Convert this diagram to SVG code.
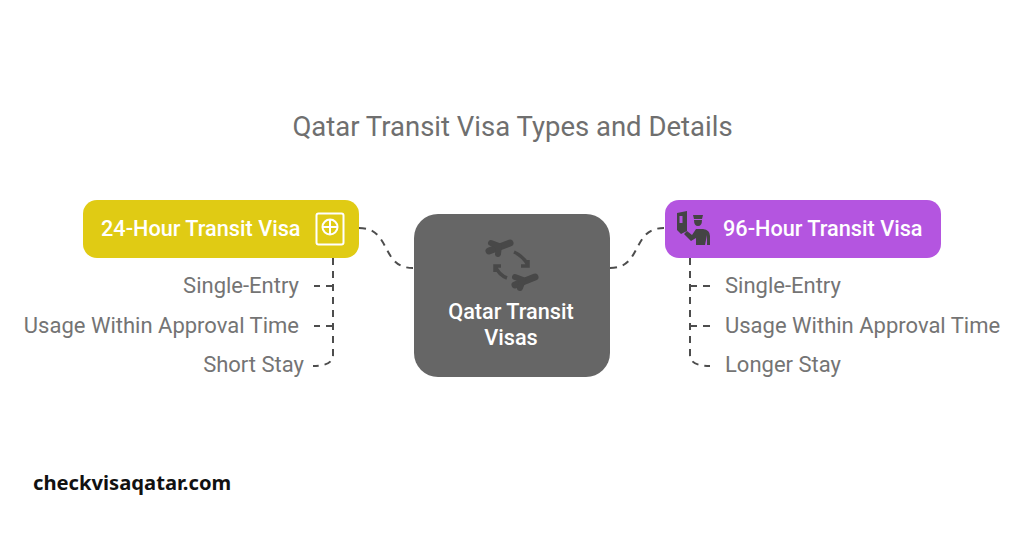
<svg xmlns="http://www.w3.org/2000/svg" width="1024" height="536" viewBox="0 0 1024 536">
<style>
text{font-family:Roboto,"Liberation Sans",sans-serif}
.t{font-size:27.500px;fill:#6f6f6f}
.l{font-size:22px;fill:#747474}
.n{font-size:21.700px;font-weight:500;fill:#fff}
.c{fill:none;stroke:#4d4d4d;stroke-width:2;stroke-dasharray:7 6}
.i{fill:#444}
.a{fill:none;stroke:#484848;stroke-width:3.500}
.p{fill:none;stroke:#484848;stroke-width:7;stroke-linecap:round;stroke-linejoin:round}
.w{fill:none;stroke:#484848;stroke-width:6;stroke-linecap:round;stroke-linejoin:round}
</style>
<rect width="1024" height="536" fill="#fff"/>
<text class="t" x="512.500" y="136" text-anchor="middle">Qatar Transit Visa Types and Details</text>
<g id="connectors">
<path class="c" d="M359 228C392 228 380 268 413 268"/>
<path class="c" d="M610 268C643 268 631 228 664 228"/>
<path class="c" d="M333 258V355Q333 366 313 366"/>
<path class="c" d="M333 286H314"/>
<path class="c" d="M333 326H314"/>
<path class="c" d="M690 258V355Q690 366 710 366"/>
<path class="c" d="M690 286H710"/>
<path class="c" d="M690 326H710"/>
</g>
<g id="node-24h">
<rect x="83" y="200" width="276" height="58" rx="14" fill="#e0cb14"/>
<text class="n" x="101" y="236">24-Hour Transit Visa</text>
<rect x="316.500" y="213.500" width="27" height="31" rx="2" fill="none" stroke="#fff" stroke-width="2"/>
<circle cx="330" cy="227" r="7.500" fill="none" stroke="#fff" stroke-width="2"/>
<path d="M322.500 227H337.500M330 219.500V234.500" stroke="#fff" stroke-width="2"/>
</g>
<g id="node-center">
<rect x="414" y="214" width="196" height="163" rx="24" fill="#666"/>
<path class="p" d="M489 251L510 243"/>
<path class="w" d="M491 243L499 246L498 254"/>
<path class="p" d="M515 285L535 277"/>
<path class="w" d="M515 277L523 280L520 288"/>
<path class="a" d="M514 252Q523 256 528 265M521 266L528 266L528 260"/>
<path class="a" d="M507 278Q499 275 495 266M495 272L495 266L501 266"/>
<text class="n" x="511" y="319" text-anchor="middle">Qatar Transit</text>
<text class="n" x="511" y="345" text-anchor="middle">Visas</text>
</g>
<g id="node-96h">
<rect x="665" y="200" width="276" height="58" rx="14" fill="#b455e0"/>
<path class="i" d="M677 213L687 211V231L681 234L677 230Z"/>
<rect x="679.500" y="216" width="3" height="7" fill="#b455e0"/>
<path class="i" d="M693 215H703L702 219H694ZM694 220H702Q702 226 698 226Q694 226 694 220Z"/>
<path class="i" d="M684 234L687 231L692 235L696 229H703Q710 230 710 236V245H707V235L705 245H696V238L691 241Z"/>
<text class="n" x="723" y="236">96-Hour Transit Visa</text>
</g>
<g id="leaves-left">
<text class="l" x="299" y="293" text-anchor="end">Single-Entry</text>
<text class="l" x="299" y="333" text-anchor="end">Usage Within Approval Time</text>
<text class="l" x="304" y="372" text-anchor="end">Short Stay</text>
</g>
<g id="leaves-right">
<text class="l" x="725" y="293">Single-Entry</text>
<text class="l" x="725" y="333">Usage Within Approval Time</text>
<text class="l" x="725" y="372">Longer Stay</text>
</g>
<text x="33" y="490" font-size="20.200" font-weight="700" fill="#111" style="font-family:'Noto Sans','Liberation Sans',sans-serif">checkvisaqatar.com</text>
</svg>
